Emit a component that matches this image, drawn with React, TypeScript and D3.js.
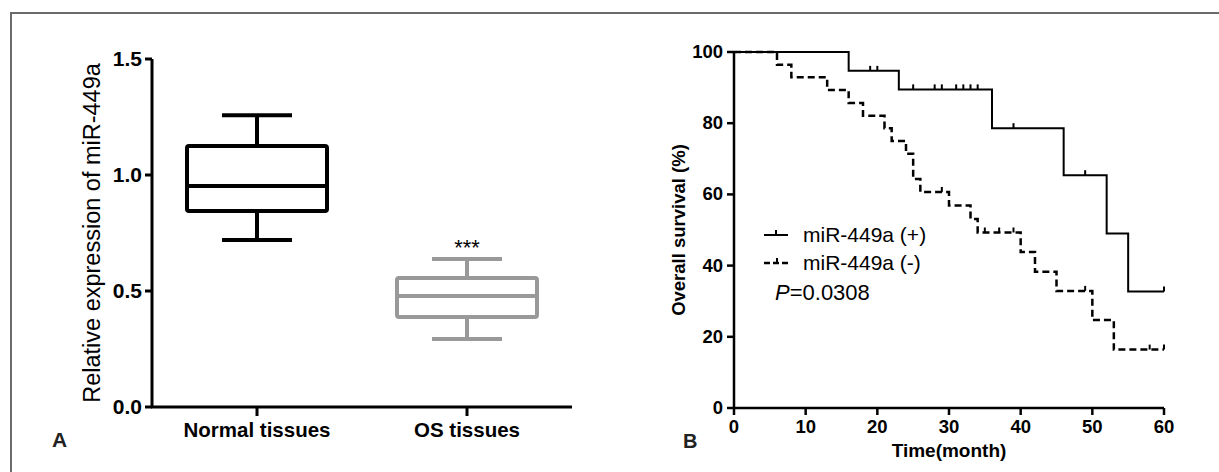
import React from 'react';
import * as d3 from 'd3';

// Panel A: box plot
const groups = ['Normal tissues', 'OS tissues'];
const whiskerLow = [0.72, 0.293];
const q1 = [0.845, 0.388];
const median = [0.953, 0.478];
const q3 = [1.125, 0.556];
const whiskerHigh = [1.258, 0.638];
const boxColors = ['#000000', '#999999'];
const yTicksA = [0, 0.5, 1.0, 1.5];

// Panel B: Kaplan-Meier steps [time, survival %]
const posSteps: [number, number][] = [[0, 100], [16, 94.7], [23, 89.5], [36, 78.6], [46, 65.4], [52, 49], [55, 32.7], [60, 32.7]];
const posCensor = [19, 20, 25, 28, 29, 31, 32, 33, 34, 39, 49, 60];
const negSteps: [number, number][] = [[0, 100], [6, 96.4], [8, 92.9], [13, 89.3], [16, 85.7], [18, 82.1], [21, 78.6], [22, 75], [24, 71.4], [25, 64.3], [26, 60.7], [30, 56.9], [33, 53.1], [34, 49.3], [40, 43.8], [42, 38.3], [45, 32.9], [50, 24.7], [53, 16.4], [60, 16.4]];
const negCensor = [29, 35, 37, 39, 49, 58, 60];
const xTicksB = [0, 10, 20, 30, 40, 50, 60];
const yTicksB = [0, 20, 40, 60, 80, 100];

const font = "Arial, 'Liberation Sans', sans-serif";

const survAt = (steps: [number, number][], t: number) => {
  let v = steps[0][1];
  for (const [tt, s] of steps) if (tt <= t) v = s;
  return v;
};

export default function App() {
  const xA = d3.scaleBand<string>().domain(groups).range([152, 572]);
  const yA = d3.scaleLinear().domain([0, 1.5]).range([407, 59]);
  const xB = d3.scaleLinear().domain([0, 60]).range([734, 1164]);
  const yB = d3.scaleLinear().domain([0, 100]).range([408, 52]);

  const stepLine = d3.line<[number, number]>()
    .x(d => xB(d[0]))
    .y(d => yB(d[1]))
    .curve(d3.curveStepAfter);

  const bw = xA.bandwidth();

  return (
    <svg width={1219} height={472} style={{ position: 'absolute', left: 0, top: 0, background: '#fff' }} fontFamily={font}>
      <rect x={0} y={0} width={1219} height={472} fill="#fff" />
      <rect x={11} y={13} width={1230} height={480} fill="none" stroke="#6b6b6b" strokeWidth={2} />

      {/* Panel A */}
      <g>
        <line x1={152} x2={152} y1={yA(1.5)} y2={yA(0)} stroke="#000" strokeWidth={3} />
        <line x1={151} x2={572} y1={yA(0)} y2={yA(0)} stroke="#000" strokeWidth={3} />
        {yTicksA.map(t => (
          <g key={t}>
            <line x1={145} x2={152} y1={yA(t)} y2={yA(t)} stroke="#000" strokeWidth={3} />
            <text x={142} y={yA(t) + 7} textAnchor="end" fontSize={21} fontWeight="bold">{t.toFixed(1)}</text>
          </g>
        ))}
        {groups.map((g, i) => {
          const cx = (xA(g) as number) + bw / 2;
          const c = boxColors[i];
          return (
            <g key={g}>
              <line x1={cx} x2={cx} y1={yA(0)} y2={yA(0) + 9} stroke="#000" strokeWidth={3} />
              <text x={cx} y={437} textAnchor="middle" fontSize={20.5} fontWeight="bold">{g}</text>
              <line x1={cx} x2={cx} y1={yA(whiskerHigh[i])} y2={yA(q3[i])} stroke={c} strokeWidth={4} />
              <line x1={cx} x2={cx} y1={yA(q1[i])} y2={yA(whiskerLow[i])} stroke={c} strokeWidth={4} />
              <line x1={cx - bw / 6} x2={cx + bw / 6} y1={yA(whiskerHigh[i])} y2={yA(whiskerHigh[i])} stroke={c} strokeWidth={4} />
              <line x1={cx - bw / 6} x2={cx + bw / 6} y1={yA(whiskerLow[i])} y2={yA(whiskerLow[i])} stroke={c} strokeWidth={4} />
              <rect x={cx - bw / 3} y={yA(q3[i])} width={bw * 2 / 3} height={yA(q1[i]) - yA(q3[i])} fill="none" stroke={c} strokeWidth={4} rx={2} />
              <line x1={cx - bw / 3} x2={cx + bw / 3} y1={yA(median[i])} y2={yA(median[i])} stroke={c} strokeWidth={4} />
            </g>
          );
        })}
        <text x={(xA(groups[1]) as number) + bw / 2} y={yA(whiskerHigh[1]) - 4} textAnchor="middle" fontSize={22}>***</text>
        <text transform={`translate(100,${(yA(0) + yA(1.5)) / 2}) rotate(-90)`} textAnchor="middle" fontSize={23.5}>Relative expression of miR-449a</text>
        <text x={52} y={447} fontSize={21} fontWeight="bold" fill="#222">A</text>
      </g>

      {/* Panel B */}
      <g>
        <line x1={734} x2={734} y1={yB(100)} y2={yB(0)} stroke="#000" strokeWidth={2.5} />
        <line x1={733} x2={1164} y1={yB(0)} y2={yB(0)} stroke="#000" strokeWidth={2.5} />
        {yTicksB.map(t => (
          <g key={t}>
            <line x1={727} x2={734} y1={yB(t)} y2={yB(t)} stroke="#000" strokeWidth={2.5} />
            <text x={723} y={yB(t) + 6} textAnchor="end" fontSize={18.5} fontWeight="bold">{t}</text>
          </g>
        ))}
        {xTicksB.map(t => (
          <g key={t}>
            <line x1={xB(t)} x2={xB(t)} y1={yB(0)} y2={yB(0) + 7} stroke="#000" strokeWidth={2.5} />
            <text x={xB(t)} y={433} textAnchor="middle" fontSize={18.5} fontWeight="bold">{t}</text>
          </g>
        ))}
        <path d={stepLine(posSteps) as string} fill="none" stroke="#000" strokeWidth={2} />
        {posCensor.map((t, i) => (
          <line key={'p' + i} x1={xB(t)} x2={xB(t)} y1={yB(survAt(posSteps, t))} y2={yB(survAt(posSteps, t)) - 5} stroke="#000" strokeWidth={2} />
        ))}
        <path d={stepLine(negSteps) as string} fill="none" stroke="#000" strokeWidth={2.5} strokeDasharray="7,4" />
        {negCensor.map((t, i) => (
          <line key={'n' + i} x1={xB(t)} x2={xB(t)} y1={yB(survAt(negSteps, t))} y2={yB(survAt(negSteps, t)) - 5} stroke="#000" strokeWidth={2} />
        ))}

        {/* legend */}
        <line x1={764} x2={788} y1={235} y2={235} stroke="#000" strokeWidth={2} />
        <line x1={776} x2={776} y1={235} y2={230} stroke="#000" strokeWidth={2} />
        <text x={803} y={242} fontSize={21}>miR-449a (+)</text>
        <line x1={764} x2={790} y1={263} y2={263} stroke="#000" strokeWidth={2.5} strokeDasharray="6,3" />
        <line x1={777} x2={777} y1={263} y2={258} stroke="#000" strokeWidth={2} />
        <text x={803} y={270} fontSize={21}>miR-449a (-)</text>
        <text x={775} y={300} fontSize={22}><tspan fontStyle="italic">P</tspan>=0.0308</text>

        <text x={xB(30)} y={457} textAnchor="middle" fontSize={19} fontWeight="bold">Time(month)</text>
        <text transform={`translate(685,${(yB(0) + yB(100)) / 2}) rotate(-90)`} textAnchor="middle" fontSize={18.5} fontWeight="bold">Overall survival (%)</text>
        <text x={683} y={448} fontSize={20} fontWeight="bold" fill="#222">B</text>
      </g>
    </svg>
  );
}
